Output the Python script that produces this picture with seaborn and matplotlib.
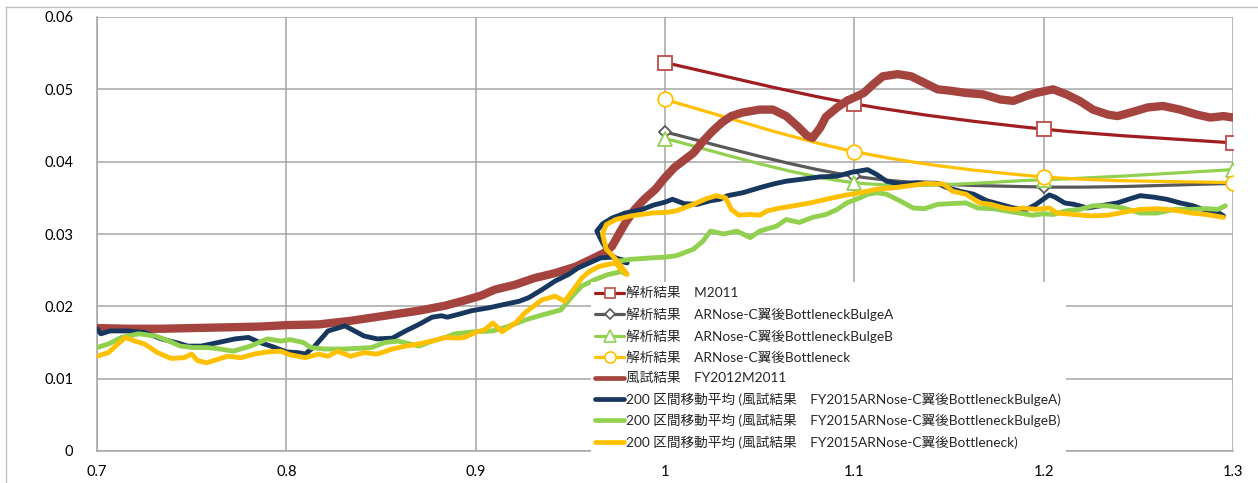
import numpy as np
import pandas as pd
import matplotlib
matplotlib.use("Agg")
import matplotlib.pyplot as plt
from matplotlib.path import Path
from matplotlib.patches import PathPatch
from matplotlib.lines import Line2D
import seaborn as sns

# ---------------- data ----------------
# CFD results at discrete Mach numbers
mach_cfd = [1.0, 1.1, 1.2, 1.3]
cd_cfd_m2011 = [0.0537, 0.0480, 0.0445, 0.0426]
cd_cfd_bulge_a = [0.0441, 0.0380, 0.0365, 0.0370]
cd_cfd_bulge_b = [0.0432, 0.0371, 0.0375, 0.0389]
cd_cfd_bottleneck = [0.0486, 0.0414, 0.0379, 0.0371]

# wind-tunnel test FY2012 M2011
wt_m2011_x = [0.700, 0.716, 0.734, 0.751, 0.769, 0.786, 0.800, 0.817, 0.834, 0.852,
              0.870, 0.884, 0.894, 0.903, 0.910, 0.921, 0.931, 0.942, 0.953, 0.961,
              0.968, 0.972, 0.975, 0.979, 0.984, 0.989, 0.995, 1.000, 1.005, 1.010,
              1.015, 1.020, 1.025, 1.030, 1.035, 1.041, 1.050, 1.057, 1.064, 1.070,
              1.075, 1.078, 1.082, 1.085, 1.091, 1.096, 1.101, 1.105, 1.110, 1.115,
              1.123, 1.130, 1.137, 1.144, 1.151, 1.159, 1.168, 1.177, 1.184, 1.191,
              1.196, 1.205, 1.212, 1.219, 1.226, 1.234, 1.239, 1.246, 1.255, 1.263,
              1.272, 1.281, 1.288, 1.295, 1.300]
wt_m2011_y = [0.0170, 0.0169, 0.0169, 0.0170, 0.0171, 0.0172, 0.0174, 0.0175, 0.0180, 0.0187,
              0.0194, 0.0201, 0.0208, 0.0215, 0.0223, 0.0230, 0.0239, 0.0246, 0.0255, 0.0265,
              0.0274, 0.0283, 0.0297, 0.0315, 0.0334, 0.0348, 0.0362, 0.0378, 0.0392, 0.0402,
              0.0412, 0.0428, 0.0442, 0.0454, 0.0463, 0.0468, 0.0472, 0.0472, 0.0463, 0.0449,
              0.0436, 0.0433, 0.0447, 0.0462, 0.0475, 0.0484, 0.0490, 0.0495, 0.0507, 0.0518,
              0.0521, 0.0518, 0.0509, 0.0500, 0.0498, 0.0495, 0.0493, 0.0486, 0.0484, 0.0491,
              0.0495, 0.0500, 0.0493, 0.0484, 0.0472, 0.0465, 0.0463, 0.0468, 0.0475, 0.0477,
              0.0472, 0.0465, 0.0461, 0.0463, 0.0461]

# 200-point moving averages, FY2015 wind-tunnel test
ma_bulge_a_x = [0.700, 0.702, 0.707, 0.716, 0.725, 0.734, 0.743, 0.748, 0.755, 0.764,
                0.773, 0.780, 0.786, 0.793, 0.800, 0.806, 0.810, 0.815, 0.822, 0.826,
                0.831, 0.836, 0.841, 0.848, 0.856, 0.863, 0.870, 0.877, 0.882, 0.885,
                0.891, 0.898, 0.907, 0.914, 0.923, 0.928, 0.935, 0.942, 0.949, 0.954,
                0.960, 0.966, 0.972, 0.978, 0.980, 0.976, 0.971, 0.967, 0.964, 0.967,
                0.972, 0.979, 0.988, 0.994, 1.000, 1.004, 1.010, 1.017, 1.024, 1.029,
                1.033, 1.041, 1.050, 1.057, 1.064, 1.073, 1.082, 1.091, 1.098, 1.107,
                1.112, 1.117, 1.124, 1.133, 1.144, 1.149, 1.156, 1.163, 1.170, 1.177,
                1.184, 1.191, 1.196, 1.203, 1.206, 1.211, 1.216, 1.223, 1.230, 1.239,
                1.246, 1.251, 1.258, 1.265, 1.272, 1.279, 1.286, 1.292, 1.295]
ma_bulge_a_y = [0.0169, 0.0162, 0.0166, 0.0166, 0.0164, 0.0155, 0.0149, 0.0145, 0.0145, 0.0150,
                0.0155, 0.0157, 0.0150, 0.0144, 0.0137, 0.0136, 0.0134, 0.0145, 0.0166, 0.0169,
                0.0173, 0.0166, 0.0159, 0.0155, 0.0156, 0.0166, 0.0175, 0.0185, 0.0187, 0.0185,
                0.0189, 0.0194, 0.0198, 0.0202, 0.0207, 0.0212, 0.0223, 0.0235, 0.0244, 0.0253,
                0.0260, 0.0267, 0.0268, 0.0264, 0.0260, 0.0263, 0.0272, 0.0288, 0.0304, 0.0314,
                0.0322, 0.0329, 0.0334, 0.0340, 0.0344, 0.0348, 0.0342, 0.0341, 0.0346, 0.0348,
                0.0353, 0.0357, 0.0364, 0.0369, 0.0373, 0.0376, 0.0379, 0.0380, 0.0385, 0.0389,
                0.0382, 0.0373, 0.0369, 0.0371, 0.0370, 0.0364, 0.0359, 0.0355, 0.0346, 0.0341,
                0.0336, 0.0334, 0.0341, 0.0354, 0.0351, 0.0343, 0.0341, 0.0336, 0.0339, 0.0343,
                0.0349, 0.0353, 0.0351, 0.0348, 0.0343, 0.0339, 0.0332, 0.0330, 0.0325]

ma_bulge_b_x = [0.700, 0.706, 0.713, 0.722, 0.731, 0.738, 0.744, 0.751, 0.758, 0.765,
                0.772, 0.781, 0.790, 0.797, 0.802, 0.809, 0.813, 0.820, 0.831, 0.845,
                0.852, 0.859, 0.870, 0.877, 0.884, 0.889, 0.896, 0.900, 0.909, 0.917,
                0.926, 0.935, 0.945, 0.951, 0.956, 0.963, 0.970, 0.977, 0.979, 0.976,
                0.974, 0.982, 0.993, 1.000, 1.006, 1.015, 1.020, 1.024, 1.031, 1.038,
                1.045, 1.050, 1.059, 1.064, 1.071, 1.078, 1.085, 1.091, 1.096, 1.103,
                1.107, 1.112, 1.117, 1.124, 1.131, 1.137, 1.144, 1.151, 1.159, 1.165,
                1.173, 1.180, 1.187, 1.194, 1.200, 1.205, 1.212, 1.219, 1.226, 1.234,
                1.242, 1.251, 1.260, 1.269, 1.278, 1.286, 1.292, 1.296]
ma_bulge_b_y = [0.0143, 0.0148, 0.0157, 0.0162, 0.0159, 0.0152, 0.0145, 0.0143, 0.0143, 0.0141,
                0.0138, 0.0145, 0.0155, 0.0152, 0.0154, 0.0150, 0.0143, 0.0141, 0.0141, 0.0143,
                0.0150, 0.0152, 0.0145, 0.0152, 0.0157, 0.0162, 0.0164, 0.0165, 0.0166, 0.0172,
                0.0181, 0.0188, 0.0195, 0.0214, 0.0228, 0.0237, 0.0244, 0.0248, 0.0245, 0.0255,
                0.0262, 0.0265, 0.0267, 0.0268, 0.0270, 0.0279, 0.0290, 0.0304, 0.0300, 0.0304,
                0.0295, 0.0304, 0.0311, 0.0320, 0.0316, 0.0323, 0.0327, 0.0334, 0.0343, 0.0350,
                0.0355, 0.0357, 0.0355, 0.0346, 0.0336, 0.0335, 0.0341, 0.0342, 0.0343, 0.0336,
                0.0335, 0.0332, 0.0329, 0.0326, 0.0328, 0.0327, 0.0332, 0.0334, 0.0339, 0.0339,
                0.0336, 0.0329, 0.0329, 0.0334, 0.0334, 0.0335, 0.0334, 0.0339]

ma_bottleneck_x = [0.700, 0.706, 0.711, 0.715, 0.720, 0.725, 0.732, 0.739, 0.746, 0.750,
                   0.753, 0.758, 0.764, 0.769, 0.776, 0.783, 0.790, 0.797, 0.802, 0.810,
                   0.817, 0.822, 0.827, 0.834, 0.841, 0.848, 0.856, 0.863, 0.870, 0.877,
                   0.884, 0.891, 0.894, 0.900, 0.905, 0.909, 0.914, 0.921, 0.926, 0.935,
                   0.942, 0.947, 0.953, 0.956, 0.960, 0.965, 0.970, 0.974, 0.976, 0.979,
                   0.980, 0.977, 0.974, 0.969, 0.967, 0.969, 0.974, 0.982, 0.993, 1.001,
                   1.006, 1.015, 1.022, 1.027, 1.032, 1.035, 1.039, 1.045, 1.050, 1.054,
                   1.061, 1.068, 1.077, 1.085, 1.094, 1.103, 1.112, 1.121, 1.130, 1.138,
                   1.147, 1.152, 1.159, 1.166, 1.172, 1.179, 1.184, 1.189, 1.196, 1.203,
                   1.207, 1.216, 1.225, 1.234, 1.242, 1.251, 1.260, 1.269, 1.278, 1.286,
                   1.295]
ma_bottleneck_y = [0.0131, 0.0136, 0.0148, 0.0157, 0.0152, 0.0148, 0.0136, 0.0128, 0.0129, 0.0134,
                   0.0125, 0.0122, 0.0127, 0.0131, 0.0129, 0.0134, 0.0137, 0.0138, 0.0133, 0.0129,
                   0.0134, 0.0131, 0.0138, 0.0131, 0.0136, 0.0134, 0.0141, 0.0145, 0.0148, 0.0152,
                   0.0157, 0.0156, 0.0157, 0.0164, 0.0168, 0.0177, 0.0165, 0.0177, 0.0191, 0.0209,
                   0.0214, 0.0207, 0.0228, 0.0239, 0.0248, 0.0255, 0.0258, 0.0260, 0.0253, 0.0246,
                   0.0244, 0.0255, 0.0265, 0.0279, 0.0300, 0.0313, 0.0320, 0.0325, 0.0329, 0.0330,
                   0.0332, 0.0341, 0.0349, 0.0353, 0.0350, 0.0334, 0.0326, 0.0327, 0.0326, 0.0332,
                   0.0336, 0.0339, 0.0343, 0.0348, 0.0353, 0.0357, 0.0362, 0.0364, 0.0367, 0.0370,
                   0.0369, 0.0359, 0.0355, 0.0343, 0.0341, 0.0336, 0.0334, 0.0336, 0.0334, 0.0336,
                   0.0329, 0.0327, 0.0325, 0.0326, 0.0330, 0.0334, 0.0335, 0.0333, 0.0329, 0.0327,
                   0.0323]

x_ticks = [0.7, 0.8, 0.9, 1.0, 1.1, 1.2, 1.3]
x_tick_labels = ["0.7", "0.8", "0.9", "1", "1.1", "1.2", "1.3"]
y_ticks = [0.0, 0.01, 0.02, 0.03, 0.04, 0.05, 0.06]
y_tick_labels = ["0", "0.01", "0.02", "0.03", "0.04", "0.05", "0.06"]

labels = [
    "解析結果　M2011",
    "解析結果　ARNose-C翼後BottleneckBulgeA",
    "解析結果　ARNose-C翼後BottleneckBulgeB",
    "解析結果　ARNose-C翼後Bottleneck",
    "風試結果　FY2012M2011",
    "200 区間移動平均 (風試結果　FY2015ARNose-C翼後BottleneckBulgeA)",
    "200 区間移動平均 (風試結果　FY2015ARNose-C翼後BottleneckBulgeB)",
    "200 区間移動平均 (風試結果　FY2015ARNose-C翼後Bottleneck)",
]

# ---------------- style ----------------
sns.set_theme(style="white")
plt.rcParams["font.family"] = ["Lato", "Noto Sans CJK JP", "DejaVu Sans"]

GRID = "#A6A6A6"
C_RED_CFD = "#A01D22"
C_RED_EDGE = "#BE4B48"
C_GRAY = "#595959"
C_GREEN = "#92D050"
C_YELLOW = "#FFC000"
C_RED_WT = "#A5433F"
C_NAVY = "#17375E"

fig = plt.figure(figsize=(12.58, 4.83), dpi=100)
ax = fig.add_axes([97 / 1258, 32 / 483, 1136 / 1258, 434 / 483])

ax.set_xlim(0.7, 1.3)
ax.set_ylim(0.0, 0.06)
ax.set_xticks(x_ticks)
ax.set_xticklabels(x_tick_labels)
ax.set_yticks(y_ticks)
ax.set_yticklabels(y_tick_labels)
ax.grid(True, color=GRID, lw=1.1)
ax.set_axisbelow(True)
for side in ["top", "right"]:
    ax.spines[side].set_visible(False)
for side in ["left", "bottom"]:
    ax.spines[side].set_color(GRID)
    ax.spines[side].set_linewidth(1.1)
ax.tick_params(axis="both", which="major", direction="out", length=5, width=1.1,
               color=GRID, labelsize=10.5, labelcolor="black")
ax.tick_params(axis="y", pad=12)
ax.tick_params(axis="x", pad=5)


def smooth_curve(xs, ys, color, lw, z):
    """Smoothed connector through the points (cubic Bezier segments)."""
    pts = np.column_stack([xs, ys]).astype(float)
    n = len(pts)
    verts = [pts[0]]
    codes = [Path.MOVETO]
    for i in range(n - 1):
        p0 = pts[i - 1] if i > 0 else pts[i]
        p1, p2 = pts[i], pts[i + 1]
        p3 = pts[i + 2] if i + 2 < n else pts[i + 1]
        verts += [p1 + (p2 - p0) / 6.0, p2 - (p3 - p1) / 6.0, p2]
        codes += [Path.CURVE4] * 3
    ax.add_patch(PathPatch(Path(verts, codes), fill=False, edgecolor=color,
                           lw=lw, zorder=z, capstyle="round"))


cfd_series = [
    (cd_cfd_m2011, C_RED_CFD, C_RED_EDGE, "s", 9.5),
    (cd_cfd_bulge_a, C_GRAY, C_GRAY, "D", 6.5),
    (cd_cfd_bulge_b, C_GREEN, C_GREEN, "^", 10),
    (cd_cfd_bottleneck, C_YELLOW, C_YELLOW, "o", 10.5),
]
for k, (vals, lc, mc, mk, ms) in enumerate(cfd_series):
    smooth_curve(mach_cfd, vals, lc, 2.3, 2 + k * 0.1)
    df = pd.DataFrame({"mach": mach_cfd, "cd": vals})
    sns.lineplot(data=df, x="mach", y="cd", ax=ax, linestyle="", marker=mk,
                 markersize=ms, markerfacecolor="white", markeredgecolor=mc,
                 markeredgewidth=1.3, zorder=2.05 + k * 0.1, legend=False)

sns.lineplot(x=wt_m2011_x, y=wt_m2011_y, sort=False, estimator=None, ax=ax,
             color=C_RED_WT, lw=6.0, zorder=3, legend=False)

ma_series = [
    (ma_bulge_a_x, ma_bulge_a_y, C_NAVY),
    (ma_bulge_b_x, ma_bulge_b_y, C_GREEN),
    (ma_bottleneck_x, ma_bottleneck_y, C_YELLOW),
]
for k, (xs, ys, c) in enumerate(ma_series):
    sns.lineplot(x=xs, y=ys, sort=False, estimator=None, ax=ax, color=c,
                 lw=3.5, zorder=4 + k * 0.1, legend=False,
                 solid_joinstyle="round", solid_capstyle="round")

ax.set_xlabel("")
ax.set_ylabel("")

handles = [
    Line2D([], [], color=C_RED_CFD, lw=2.3, marker="s", ms=7.5, mfc="white", mec=C_RED_EDGE, mew=1.2),
    Line2D([], [], color=C_GRAY, lw=2.3, marker="D", ms=5.5, mfc="white", mec=C_GRAY, mew=1.2),
    Line2D([], [], color=C_GREEN, lw=2.3, marker="^", ms=8, mfc="white", mec=C_GREEN, mew=1.2),
    Line2D([], [], color=C_YELLOW, lw=2.3, marker="o", ms=8, mfc="white", mec=C_YELLOW, mew=1.2),
    Line2D([], [], color=C_RED_WT, lw=3.4),
    Line2D([], [], color=C_NAVY, lw=3.4),
    Line2D([], [], color=C_GREEN, lw=3.4),
    Line2D([], [], color=C_YELLOW, lw=3.4),
]
leg = ax.legend(handles, labels, loc="upper left", bbox_to_anchor=(0.4345, 0.390),
                frameon=True, fancybox=False, facecolor="white", edgecolor="none",
                framealpha=1.0, fontsize=9.85, handlelength=2.1, handletextpad=0.15,
                labelspacing=0.6, borderpad=0.35, borderaxespad=0.0)
leg.set_zorder(10)

# outer chart border (left and top edges)
fig.add_artist(Line2D([6 / 1258, 6 / 1258], [0, 1 - 6.5 / 483], transform=fig.transFigure,
                      color="#BFBFBF", lw=1.0))
fig.add_artist(Line2D([6 / 1258, 1], [1 - 6.5 / 483, 1 - 6.5 / 483], transform=fig.transFigure,
                      color="#BFBFBF", lw=1.0))

fig.savefig("out.png", dpi=100, facecolor="white")
